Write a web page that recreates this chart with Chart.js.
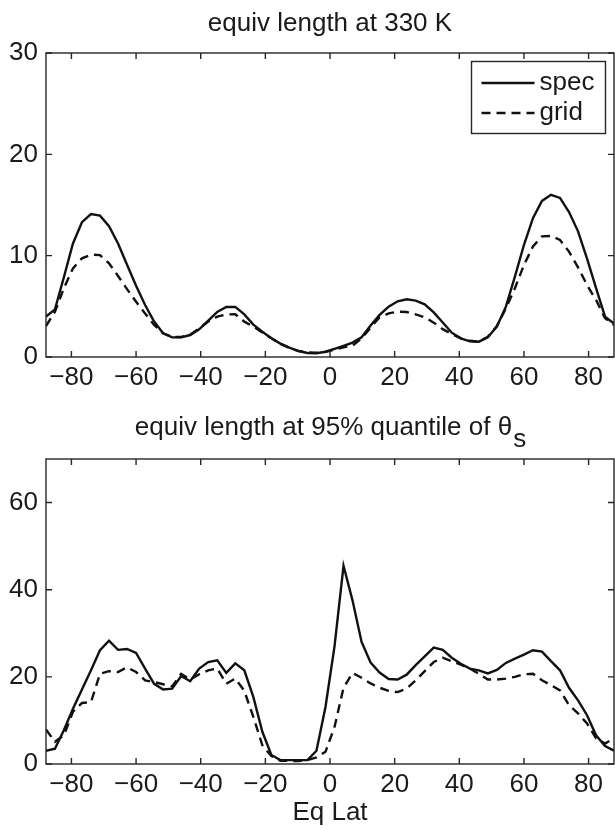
<!DOCTYPE html>
<html><head><meta charset="utf-8">
<script src="https://cdn.jsdelivr.net/npm/chart.js@4.4.0/dist/chart.umd.min.js"></script>
<style>
html,body{margin:0;padding:0;background:#fff;}
#wrap{position:relative;width:615px;height:826px;background:#fff;}
#c1{position:absolute;left:0;top:0;}
#c2{position:absolute;left:0;top:400px;}
</style></head><body>
<div id="wrap">
<canvas id="c1" width="615" height="400"></canvas>
<canvas id="c2" width="615" height="426"></canvas>
</div>
<script>
// Equivalent latitude (T42 Gaussian grid latitudes)
const lats = [-87.8638,-85.0965,-82.3129,-79.5256,-76.7369,-73.9475,-71.1578,-68.3678,-65.5776,-62.7874,-59.9970,-57.2066,-54.4162,-51.6257,-48.8352,-46.0447,-43.2542,-40.4636,-37.6731,-34.8825,-32.0920,-29.3014,-26.5108,-23.7202,-20.9296,-18.1390,-15.3484,-12.5578,-9.7671,-6.9765,-4.1860,-1.3953,
1.3953,4.1860,6.9765,9.7671,12.5578,15.3484,18.1390,20.9296,23.7202,26.5108,29.3014,32.0920,34.8825,37.6731,40.4636,43.2542,46.0447,48.8352,51.6257,54.4162,57.2066,59.9970,62.7874,65.5776,68.3678,71.1578,73.9475,76.7369,79.5256,82.3129,85.0965,87.8638];

// Top panel: equiv length at 330 K
const specTop = [3.98,4.7,7.9,11.2,13.3,14.1,13.95,12.9,11.2,9.1,7.04,5.13,3.5,2.34,1.94,1.94,2.17,2.73,3.6,4.45,4.93,4.95,4.2,3.2,2.5,1.86,1.32,0.92,0.59,0.4,0.37,0.52,
0.8,1.1,1.42,1.95,3.1,4.15,4.97,5.5,5.69,5.56,5.2,4.4,3.4,2.4,1.84,1.55,1.51,1.94,3.0,4.97,7.93,11.05,13.7,15.4,16.0,15.7,14.3,12.4,9.7,6.8,3.98,3.3];
const gridTop = [3.06,4.47,6.8,8.75,9.74,10.1,10.05,9.25,8.0,6.7,5.46,4.3,3.16,2.34,1.98,1.98,2.2,2.83,3.5,3.98,4.2,4.22,3.49,3.0,2.43,1.84,1.3,0.9,0.6,0.45,0.42,0.5,
0.72,0.95,1.12,1.84,2.9,3.92,4.3,4.47,4.44,4.2,3.92,3.39,2.75,2.27,1.84,1.6,1.51,2.0,3.06,4.8,6.78,9.08,10.9,11.9,11.95,11.55,10.4,8.85,7.1,5.63,3.82,3.16];

// Bottom panel: equiv length at 95% quantile of theta_s
const specBot = [3.05,3.5,7.8,12.7,17.1,21.5,26.1,28.3,26.2,26.4,25.5,21.9,18.4,17.1,17.3,20.2,19.0,21.9,23.4,23.8,20.9,23.1,21.5,15.4,7.4,2.06,0.9,0.9,0.9,0.9,3.05,13.1,
27.0,45.5,37.5,28.0,23.3,21.0,19.5,19.4,20.5,22.7,24.7,26.7,26.2,24.4,23.0,21.9,21.5,20.8,21.6,23.2,24.2,25.1,26.1,25.8,23.6,21.5,17.5,14.6,11.2,6.6,4.1,3.05];
const gridBot = [7.9,5.1,6.6,12.0,14.0,14.2,20.7,21.3,21.1,22.2,21.1,19.2,18.8,18.3,17.8,20.7,19.4,20.6,21.5,21.9,18.4,19.6,16.8,10.8,4.3,1.8,0.76,0.7,0.7,0.9,1.5,2.8,
8.5,17.5,20.9,19.8,18.5,17.5,16.8,16.5,17.3,19.2,21.3,23.4,24.4,23.6,22.8,21.9,20.7,19.4,19.4,19.6,20.0,20.6,20.7,19.2,18.1,16.9,13.5,11.6,9.3,5.9,4.7,5.9];

const xTicks = [-80,-60,-40,-20,0,20,40,60,80];
const yTicksTop = [0,10,20,30];
const yTicksBot = [0,20,40,60];
const seriesLabels = ['spec','grid'];
const titleTop = 'equiv length at 330 K';
const titleBot = 'equiv length at 95% quantile of \u03B8';
const titleBotSub = 's';
const xTitle = 'Eq Lat';

const FONT = '"Liberation Sans", Arial, Helvetica, sans-serif';
const AX = '#262626';
const FS = 26;

function pts(ys){ return lats.map((x,i)=>({x:x,y:ys[i]})); }
function fmt(v){ return v<0 ? '\u2212'+Math.abs(v) : String(v); }

const boxTicks = {
  id:'boxTicks',
  afterDatasetsDraw(chart){
    const {ctx, chartArea:a, scales} = chart;
    ctx.save();
    ctx.strokeStyle = AX; ctx.lineWidth = 1.4;
    ctx.strokeRect(a.left, a.top, a.right-a.left, a.bottom-a.top);
    const L = 6;
    ctx.beginPath();
    scales.x.ticks.forEach(t=>{
      const p = scales.x.getPixelForValue(t.value);
      ctx.moveTo(p,a.bottom); ctx.lineTo(p,a.bottom-L);
      ctx.moveTo(p,a.top); ctx.lineTo(p,a.top+L);
    });
    scales.y.ticks.forEach(t=>{
      const p = scales.y.getPixelForValue(t.value);
      ctx.moveTo(a.left,p); ctx.lineTo(a.left+L,p);
      ctx.moveTo(a.right,p); ctx.lineTo(a.right-L,p);
    });
    ctx.stroke();
    ctx.restore();
  }
};

const titlePlug = {
  id:'titlePlug',
  afterDraw(chart, args, o){
    const {ctx, chartArea:a} = chart;
    ctx.save();
    ctx.fillStyle = '#1a1a1a';
    ctx.font = FS + 'px ' + FONT;
    ctx.textBaseline = 'alphabetic';
    const w1 = ctx.measureText(o.text).width;
    const w2 = o.sub ? ctx.measureText(o.sub).width : 0;
    const cx = (a.left + a.right)/2;
    const x0 = cx - (w1 + w2)/2;
    const y = a.top - o.gap;
    ctx.textAlign = 'left';
    ctx.fillText(o.text, x0, y);
    if (o.sub) ctx.fillText(o.sub, x0 + w1 + 1, y + 12);
    ctx.restore();
  }
};

const legendPlug = {
  id:'legendPlug',
  afterDraw(chart, args, o){
    if (!o.show) return;
    const {ctx, chartArea:a} = chart;
    const bw = 134, bh = 72;
    const bx = a.right - 8.5 - bw, by = a.top + 8.5;
    ctx.save();
    ctx.fillStyle = '#fff';
    ctx.fillRect(bx, by, bw, bh);
    ctx.strokeStyle = AX; ctx.lineWidth = 1.4;
    ctx.strokeRect(bx, by, bw, bh);
    ctx.font = FS + 'px ' + FONT;
    ctx.textBaseline = 'middle';
    ctx.textAlign = 'left';
    chart.data.datasets.forEach((d,i)=>{
      const yy = by + 21.5 + i*30;
      ctx.strokeStyle = d.borderColor; ctx.lineWidth = d.borderWidth;
      ctx.setLineDash(d.borderDash || []);
      ctx.beginPath(); ctx.moveTo(bx+10, yy); ctx.lineTo(bx+63, yy); ctx.stroke();
      ctx.setLineDash([]);
      ctx.fillStyle = '#1a1a1a';
      ctx.fillText(d.label, bx+68, yy);
    });
    ctx.restore();
  }
};

function makeChart(id, specVals, gridVals, yMax, yTicks, opts){
  return new Chart(document.getElementById(id), {
    type:'line',
    data:{datasets:[
      {label:seriesLabels[0], data:pts(specVals), borderColor:'#111', borderWidth:2.4, pointRadius:0, tension:0, fill:false},
      {label:seriesLabels[1], data:pts(gridVals), borderColor:'#111', borderWidth:2.4, borderDash:[9,6], pointRadius:0, tension:0, fill:false}
    ]},
    options:{
      responsive:false, animation:false, devicePixelRatio:1,
      layout:{padding:{top:opts.padTop, right:1, left:0, bottom:0}},
      plugins:{
        legend:{display:false}, tooltip:{enabled:false}, title:{display:false},
        titlePlug:{text:opts.title, sub:opts.sub, gap:opts.gap},
        legendPlug:{show:opts.legend}
      },
      scales:{
        x:{type:'linear', min:lats[0], max:lats[lats.length-1],
          grid:{display:false, drawTicks:false}, border:{display:false},
          afterBuildTicks:s=>{ s.ticks = xTicks.map(v=>({value:v})); },
          afterFit:s=>{ s.height = opts.xH; },
          ticks:{padding:5, color:'#1a1a1a', font:{family:FONT, size:FS}, maxRotation:0, autoSkip:false, callback:v=>fmt(v)},
          title:{display:!!opts.xTitle, text:opts.xTitle||'', color:'#1a1a1a', font:{family:FONT, size:FS, lineHeight:1.0}, padding:{top:0,bottom:0}}
        },
        y:{type:'linear', min:0, max:yMax,
          grid:{display:false, drawTicks:false}, border:{display:false},
          afterBuildTicks:s=>{ s.ticks = yTicks.map(v=>({value:v})); },
          afterFit:s=>{ s.width = 46; },
          ticks:{padding:8, color:'#1a1a1a', font:{family:FONT, size:FS}, callback:v=>fmt(v)}
        }
      }
    },
    plugins:[boxTicks, titlePlug, legendPlug]
  });
}

makeChart('c1', specTop, gridTop, 30, yTicksTop, {padTop:53, xH:43, title:titleTop, sub:'', gap:22, legend:true});
makeChart('c2', specBot, gridBot, 70, yTicksBot, {padTop:59, xH:62, title:titleBot, sub:titleBotSub, gap:24, legend:false, xTitle:xTitle});
</script>
</body></html>
